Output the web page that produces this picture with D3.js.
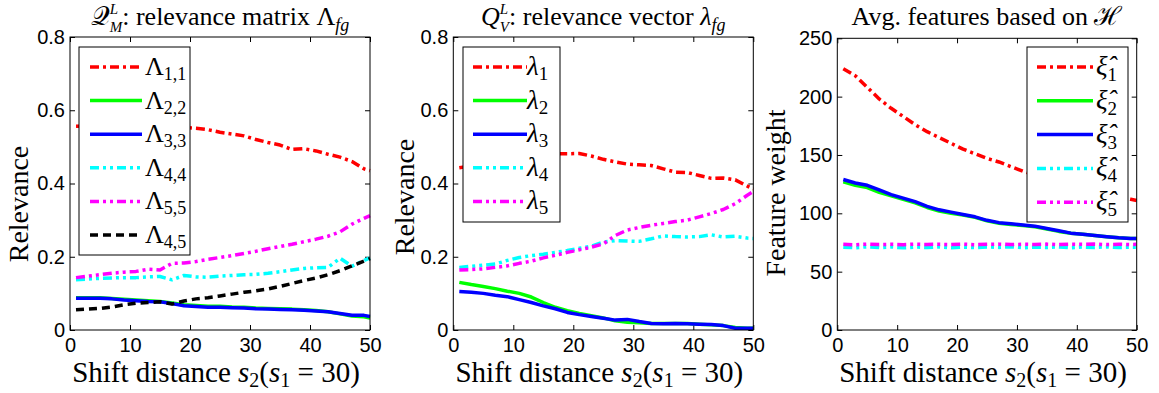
<!DOCTYPE html>
<html>
<head>
<meta charset="utf-8">
<script src="https://cdn.jsdelivr.net/npm/d3@7"></script>
<style>
  body { margin: 0; background: #fff; }
  svg { display: block; }
  .tick text { font-family: "Liberation Sans", Arial, sans-serif; font-size: 20px; fill: #000; }
  .tick line { stroke: #000; stroke-width: 1; }
  text.serif { font-family: "Liberation Serif", serif; fill: #000; white-space: pre; }
</style>
</head>
<body>
<div id="chart"></div>
<script>
const shifts = [1, 3, 5, 7, 9, 11, 13, 15, 17, 19, 21, 23, 25, 27, 29, 31, 33, 35, 37, 39, 41, 43, 45, 47, 49, 50];

// panel 1: relevance matrix diagonal / off-diagonal
const lam11 = [.556, .557, .558, .558, .557, .556, .555, .555, .554, .553, .551, .547, .540, .535, .530, .520, .512, .505, .493, .495, .489, .480, .472, .460, .440, .435];
const lam22 = [.088, .088, .088, .086, .084, .082, .080, .078, .074, .069, .067, .065, .065, .063, .062, .060, .059, .058, .057, .055, .053, .050, .044, .038, .036, .033];
const lam33 = [.087, .087, .087, .085, .082, .080, .078, .077, .072, .066, .064, .062, .062, .061, .060, .058, .057, .056, .055, .054, .052, .050, .045, .040, .040, .037];
const lam44 = [.137, .139, .141, .142, .143, .143, .145, .146, .137, .149, .145, .144, .147, .149, .151, .152, .155, .159, .164, .168, .170, .171, .196, .174, .190, .197];
const lam55 = [.143, .147, .151, .155, .158, .160, .166, .164, .182, .183, .187, .193, .198, .203, .209, .215, .222, .228, .234, .241, .248, .256, .268, .289, .305, .312];
const lam45 = [.055, .057, .059, .063, .069, .073, .075, .077, .071, .079, .085, .088, .093, .098, .103, .107, .112, .119, .127, .135, .142, .151, .162, .175, .188, .195];

// panel 2: relevance vector
const vec1 = [.443, .448, .455, .461, .467, .472, .476, .479, .481, .481, .482, .475, .466, .459, .453, .451, .449, .440, .431, .430, .422, .414, .415, .410, .393, .385];
const vec2 = [.130, .124, .119, .113, .106, .100, .090, .075, .062, .053, .045, .039, .033, .025, .021, .020, .018, .018, .018, .018, .016, .014, .012, .007, .005, .005];
const vec3 = [.105, .103, .100, .095, .091, .083, .075, .066, .058, .048, .042, .037, .032, .027, .029, .023, .018, .017, .018, .017, .016, .015, .012, .005, .005, .005];
const vec4 = [.171, .174, .177, .180, .190, .198, .203, .207, .212, .217, .223, .229, .240, .244, .243, .242, .249, .257, .255, .254, .255, .260, .254, .256, .251, .250];
const vec5 = [.164, .165, .167, .171, .175, .182, .188, .197, .204, .212, .219, .226, .235, .258, .273, .280, .286, .291, .296, .300, .309, .318, .329, .345, .368, .378];

// panel 3: average features
const feat1 = [224, 218, 208, 198, 190, 183, 176, 170, 165, 160, 155, 151, 147, 144, 140, 136, 133, 130, 127, 124, 121, 118, 116, 114, 112, 111];
const feat2 = [127, 124, 122, 118, 115, 112, 109, 105, 102, 100, 98.5, 96.5, 93.5, 91.5, 90.5, 89.5, 88.5, 86.5, 84.5, 83, 82, 81, 80, 79, 78.5, 78.5];
const feat3 = [129, 126, 124, 120, 116, 113, 110, 106, 103, 101, 99, 97, 94, 92, 91, 90, 89, 87, 85, 83, 82, 81, 80, 79, 78.5, 78.5];
const feat4 = [71, 70.5, 71.3, 70.6, 71.2, 70.4, 71.1, 70.7, 71.3, 70.5, 71, 70.6, 71.2, 70.8, 71.3, 70.5, 71, 70.7, 71.2, 70.5, 71.1, 70.8, 71.2, 70.6, 71, 71];
const feat5 = [73.5, 73, 73.6, 73.2, 73.5, 73.1, 73.6, 73.3, 73.5, 73.2, 73.6, 73.1, 73.4, 73.6, 73.2, 73.5, 73.3, 73.6, 73.2, 73.5, 73.4, 73.6, 73.2, 73.5, 73.3, 73.4];

const xTicks = [0, 10, 20, 30, 40, 50];
const relTicks = [0, 0.2, 0.4, 0.6, 0.8];
const featTicks = [0, 50, 100, 150, 200, 250];

// line styles
const RED = { color: '#ff0000', dash: '9,4,3,4' };
const GREEN = { color: '#00ff00', dash: null };
const BLUE = { color: '#0000ff', dash: null };
const CYAN = { color: '#00ffff', dash: '9,4,3,4,3,4' };
const MAGENTA = { color: '#ff00ff', dash: '9,4,3,4,3,4' };
const BLACK = { color: '#000000', dash: '8,5' };

const width = 1159, height = 393;
const svg = d3.select('#chart').append('svg').attr('width', width).attr('height', height);

// append rich text built from pieces, returns group
function richText(parent, parts, x, y, anchor) {
    const g = parent.append('g');
    let cx = 0, prevX = 0;
    parts.forEach(p => {
        const px = p.back ? prevX : cx;
        const el = g.append('text')
            .attr('class', 'serif')
            .attr('x', px)
            .attr('y', p.dy || 0)
            .style('font-size', p.size + 'px')
            .style('font-style', p.it ? 'italic' : 'normal')
            .text(p.t);
        const w = el.node().getComputedTextLength();
        if (p.back) {
            cx = Math.max(cx, px + w);
        } else {
            prevX = px; cx = px + w;
        }
    });
    const off = anchor === 'middle' ? -cx / 2 : anchor === 'end' ? -cx : 0;
    g.attr('transform', `translate(${x + off},${y})`);
    return g;
}

function xLabelParts() {
    return [
        { t: 'Shift distance\u00a0', size: 29 },
        { t: 's', size: 29, it: true },
        { t: '2', size: 20, dy: 5 },
        { t: '(', size: 29 },
        { t: 's', size: 29, it: true },
        { t: '1', size: 20, dy: 5 },
        { t: '\u00a0=\u00a030)', size: 29 }
    ];
}

function drawPanel(cfg) {
    const x = d3.scaleLinear().domain([0, 50]).range([cfg.left, cfg.right]);
    const y = d3.scaleLinear().domain(cfg.yDomain).range([cfg.bottom, cfg.top]);

    const g = svg.append('g');

    // ticks inside on all four sides
    g.append('g').attr('transform', `translate(0,${cfg.bottom})`)
        .call(d3.axisBottom(x).tickValues(xTicks).tickSize(-5).tickPadding(8).tickFormat(d3.format('d')))
        .call(a => a.select('.domain').remove());
    g.append('g').attr('transform', `translate(0,${cfg.top})`)
        .call(d3.axisTop(x).tickValues(xTicks).tickSize(-5).tickFormat(''))
        .call(a => a.select('.domain').remove());
    g.append('g').attr('transform', `translate(${cfg.left},0)`)
        .call(d3.axisLeft(y).tickValues(cfg.yTicks).tickSize(-5).tickPadding(5).tickFormat(cfg.yFormat))
        .call(a => a.select('.domain').remove());
    g.append('g').attr('transform', `translate(${cfg.right},0)`)
        .call(d3.axisRight(y).tickValues(cfg.yTicks).tickSize(-5).tickFormat(''))
        .call(a => a.select('.domain').remove());

    // series
    const line = d3.line().x((d, i) => x(shifts[i])).y(d => y(d));
    cfg.series.forEach(s => {
        g.append('path')
            .attr('d', line(s.values))
            .attr('fill', 'none')
            .attr('stroke', s.style.color)
            .attr('stroke-width', 3.5)
            .attr('stroke-dasharray', s.style.dash)
            .attr('stroke-linejoin', 'round');
    });

    // frame
    g.append('rect')
        .attr('x', cfg.left).attr('y', cfg.top)
        .attr('width', cfg.right - cfg.left).attr('height', cfg.bottom - cfg.top)
        .attr('fill', 'none').attr('stroke', '#000').attr('stroke-width', 1);

    // legend
    const L = cfg.legend;
    g.append('rect')
        .attr('x', L.x0).attr('y', L.y0).attr('width', L.x1 - L.x0).attr('height', L.y1 - L.y0)
        .attr('fill', '#fff').attr('stroke', '#000').attr('stroke-width', 1);
    cfg.series.forEach((s, i) => {
        const ly = L.first + i * L.step;
        g.append('line')
            .attr('x1', L.lx0).attr('x2', L.lx1).attr('y1', ly).attr('y2', ly)
            .attr('stroke', s.style.color).attr('stroke-width', 3.5)
            .attr('stroke-dasharray', s.style.dash);
        richText(g, s.label, L.tx, ly + 8, 'start');
    });

    // title and axis labels
    richText(svg, cfg.title, (cfg.left + cfg.right) / 2, 25, 'middle');
    richText(svg, xLabelParts(), (cfg.left + cfg.right) / 2 - 4, 382, 'middle');
    svg.append('text').attr('class', 'serif')
        .attr('transform', `translate(${cfg.ylabX},${cfg.ylabY}) rotate(-90)`)
        .attr('text-anchor', 'middle')
        .style('font-size', '28px')
        .text(cfg.ylabel);
}

const lamLabel = sub => [{ t: 'Λ', size: 26 }, { t: sub, size: 18, dy: 5 }];
const vecLabel = sub => [{ t: 'λ', size: 27, it: true }, { t: sub, size: 19, dy: 5 }];
const featLabel = sub => [{ t: 'ξ\u0302', size: 27, it: true }, { t: sub, size: 19, dy: 6 }];

drawPanel({
    left: 70, right: 370, top: 37, bottom: 330,
    yDomain: [0, 0.8], yTicks: relTicks, yFormat: d => d === 0 ? '0' : d3.format('.1f')(d),
    title: [
        { t: '𝒬', size: 26 },
        { t: 'L', size: 15, dy: -11, it: true },
        { t: 'M', size: 15, dy: 7, it: true, back: true },
        { t: ':\u00a0relevance matrix Λ', size: 26 },
        { t: 'fg', size: 18, dy: 6, it: true }
    ],
    ylabel: 'Relevance', ylabX: 28, ylabY: 204,
    legend: { x0: 79, x1: 190, y0: 47, y1: 255, first: 67, step: 33.6, lx0: 90, lx1: 142, tx: 145 },
    series: [
        { values: lam11, style: RED, label: lamLabel('1,1') },
        { values: lam22, style: GREEN, label: lamLabel('2,2') },
        { values: lam33, style: BLUE, label: lamLabel('3,3') },
        { values: lam44, style: CYAN, label: lamLabel('4,4') },
        { values: lam55, style: MAGENTA, label: lamLabel('5,5') },
        { values: lam45, style: BLACK, label: lamLabel('4,5') }
    ]
});

drawPanel({
    left: 453.3, right: 753.3, top: 37, bottom: 330,
    yDomain: [0, 0.8], yTicks: relTicks, yFormat: d => d === 0 ? '0' : d3.format('.1f')(d),
    title: [
        { t: 'Q', size: 26, it: true },
        { t: 'L', size: 15, dy: -11, it: true },
        { t: 'V', size: 15, dy: 7, it: true, back: true },
        { t: ':\u00a0relevance vector\u00a0', size: 26 },
        { t: 'λ', size: 26, it: true },
        { t: 'fg', size: 18, dy: 6, it: true }
    ],
    ylabel: 'Relevance', ylabX: 414, ylabY: 197,
    legend: { x0: 463, x1: 560, y0: 47, y1: 222, first: 67, step: 33.6, lx0: 473, lx1: 527, tx: 527 },
    series: [
        { values: vec1, style: RED, label: vecLabel('1') },
        { values: vec2, style: GREEN, label: vecLabel('2') },
        { values: vec3, style: BLUE, label: vecLabel('3') },
        { values: vec4, style: CYAN, label: vecLabel('4') },
        { values: vec5, style: MAGENTA, label: vecLabel('5') }
    ]
});

drawPanel({
    left: 837.3, right: 1136.7, top: 38.3, bottom: 330,
    yDomain: [0, 250], yTicks: featTicks, yFormat: d3.format('d'),
    title: [
        { t: 'Avg. features based on\u00a0', size: 26 },
        { t: 'ℋ', size: 26 }
    ],
    ylabel: 'Feature weight', ylabX: 785, ylabY: 193,
    legend: { x0: 1027, x1: 1128, y0: 47, y1: 222, first: 67, step: 33.8, lx0: 1037, lx1: 1093, tx: 1096 },
    series: [
        { values: feat1, style: RED, label: featLabel('1') },
        { values: feat2, style: GREEN, label: featLabel('2') },
        { values: feat3, style: BLUE, label: featLabel('3') },
        { values: feat4, style: CYAN, label: featLabel('4') },
        { values: feat5, style: MAGENTA, label: featLabel('5') }
    ]
});
</script>
</body>
</html>
